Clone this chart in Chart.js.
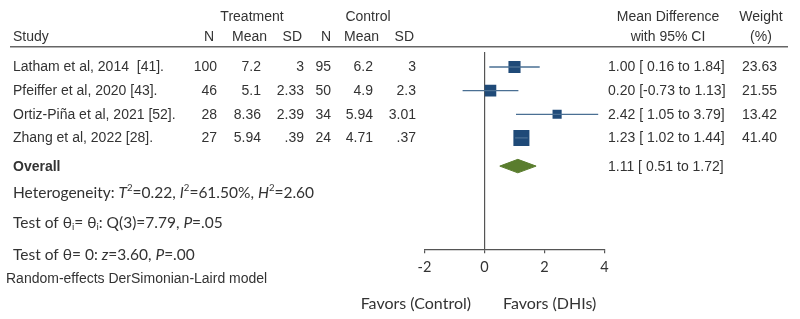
<!DOCTYPE html>
<html>
<head>
<meta charset="utf-8">
<script src="https://cdn.jsdelivr.net/npm/chart.js@4.4.0/dist/chart.umd.min.js"></script>
<style>
html,body{margin:0;padding:0;background:#fff;}
canvas{display:block;}
</style>
</head>
<body>
<canvas id="c" width="800" height="319"></canvas>
<script>
// ---- data ----
const studies = ["Latham et al, 2014  [41].", "Pfeiffer et al, 2020 [43].", "Ortiz-Piña et al, 2021 [52].", "Zhang et al, 2022 [28]."];
const tN = ["100", "46", "28", "27"];
const tMean = ["7.2", "5.1", "8.36", "5.94"];
const tSD = ["3", "2.33", "2.39", ".39"];
const cN = ["95", "50", "34", "24"];
const cMean = ["6.2", "4.9", "5.94", "4.71"];
const cSD = ["3", "2.3", "3.01", ".37"];
const md = [1.00, 0.20, 2.42, 1.23];
const lo = [0.16, -0.73, 1.05, 1.02];
const hi = [1.84, 1.13, 3.79, 1.44];
const weight = [23.63, 21.55, 13.42, 41.40];
const overallMD = 1.11, overallLo = 0.51, overallHi = 1.72;
const xTicks = [-2, 0, 2, 4];

// ---- layout constants ----
const ROW_OVERALL = studies.length + 0.19;
const TXT = "#333333";
const ARIAL = "'Liberation Sans', Arial, sans-serif";
const CAL = "Lato, 'Open Sans', sans-serif";

function ci(m, l, h) {
  return m.toFixed(2) + " [" + (l >= 0 ? " " : "") + l.toFixed(2) + " to " + h.toFixed(2) + "]";
}

const datasets = [];
studies.forEach((s, i) => {
  datasets.push({
    type: 'line', data: [{x: lo[i], y: i}, {x: hi[i], y: i}],
    borderColor: '#4a6f93', borderWidth: 1.3, pointRadius: 0, fill: false
  });
});
datasets.push({
  type: 'scatter',
  data: studies.map((s, i) => ({x: md[i], y: i})),
  pointStyle: 'rect',
  pointRadius: weight.map(w => 2.49 * Math.sqrt(w) / Math.SQRT2),
  pointHoverRadius: weight.map(w => 2.49 * Math.sqrt(w) / Math.SQRT2),
  backgroundColor: '#1f4a78', borderWidth: 0
});
const dh = 0.285;
datasets.push({
  type: 'line',
  data: [{x: overallLo, y: ROW_OVERALL}, {x: overallMD, y: ROW_OVERALL - dh}, {x: overallHi, y: ROW_OVERALL}, {x: overallMD, y: ROW_OVERALL + dh}, {x: overallLo, y: ROW_OVERALL}],
  borderColor: '#5a7d2e', borderWidth: 1, backgroundColor: '#5a7d2e', fill: 'shape', pointRadius: 0, tension: 0
});

function drawRuns(ctx, x, y, runs, size) {
  ctx.textAlign = 'left';
  ctx.textBaseline = 'middle';
  runs.forEach(r => {
    let f = size, dy = 0, st = '';
    if (r.s === 'i') st = 'italic ';
    if (r.s === 'sup') { f = size * 0.62; dy = -size * 0.33; }
    if (r.s === 'sub') { f = size * 0.62; dy = size * 0.22; }
    ctx.font = st + f + 'px ' + CAL;
    ctx.fillText(r.t, x, y + dy);
    x += ctx.measureText(r.t).width;
  });
}

const textPlugin = {
  id: 'forestText',
  afterDraw(chart) {
    const ctx = chart.ctx;
    const ys = chart.scales.y;
    const py = v => ys.getPixelForValue(v);
    ctx.save();
    ctx.fillStyle = TXT;
    ctx.textBaseline = 'middle';
    ctx.font = '14px ' + ARIAL;
    // headers
    const yH1 = py(-2.12), yH2 = py(-1.28);
    ctx.textAlign = 'center';
    ctx.fillText('Treatment', 252, yH1);
    ctx.fillText('Control', 368, yH1);
    ctx.fillText('Mean Difference', 668, yH1);
    ctx.fillText('with 95% CI', 668, yH2);
    ctx.fillText('Weight', 761, yH1);
    ctx.fillText('(%)', 761, yH2);
    ctx.textAlign = 'left';
    ctx.fillText('Study', 13, yH2);
    ctx.textAlign = 'right';
    [['N', 214], ['Mean', 267], ['SD', 302], ['N', 331], ['Mean', 379], ['SD', 414]].forEach(h => ctx.fillText(h[0], h[1], yH2));
    // header rule
    ctx.strokeStyle = '#666';
    ctx.lineWidth = 1.5;
    ctx.beginPath();
    ctx.moveTo(10, 46.7); ctx.lineTo(788, 46.7);
    ctx.stroke();
    // rows
    studies.forEach((s, i) => {
      const y = py(i) + 0.6;
      ctx.textAlign = 'left';
      ctx.fillText(s, 13, y);
      ctx.textAlign = 'right';
      ctx.fillText(tN[i], 217, y);
      ctx.fillText(tMean[i], 261, y);
      ctx.fillText(tSD[i], 304, y);
      ctx.fillText(cN[i], 331, y);
      ctx.fillText(cMean[i], 373, y);
      ctx.fillText(cSD[i], 416, y);
      ctx.textAlign = 'left';
      ctx.fillText(ci(md[i], lo[i], hi[i]), 608, y);
      ctx.textAlign = 'right';
      ctx.fillText(weight[i].toFixed(2), 777, y);
    });
    const yo = py(ROW_OVERALL) + 0.6;
    ctx.textAlign = 'left';
    ctx.font = 'bold 14px ' + ARIAL;
    ctx.fillText('Overall', 13, yo);
    ctx.font = '14px ' + ARIAL;
    ctx.fillText(ci(overallMD, overallLo, overallHi), 608, yo);
    // statistics lines
    drawRuns(ctx, 13, py(5.33), [
      {t: 'Heterogeneity: '}, {t: 'T', s: 'i'}, {t: '2', s: 'sup'}, {t: '=0.22, '},
      {t: 'I', s: 'i'}, {t: '2', s: 'sup'}, {t: '=61.50%, '}, {t: 'H', s: 'i'}, {t: '2', s: 'sup'}, {t: '=2.60'}
    ], 15.5);
    drawRuns(ctx, 13, py(6.6), [
      {t: 'Test of θ'}, {t: 'i', s: 'sub'}, {t: '= θ'}, {t: 'i', s: 'sub'}, {t: ': Q(3)=7.79, '}, {t: 'P', s: 'i'}, {t: '=.05'}
    ], 15.5);
    drawRuns(ctx, 13, py(7.95), [
      {t: 'Test of θ= 0: '}, {t: 'z', s: 'i'}, {t: '=3.60, '}, {t: 'P', s: 'i'}, {t: '=.00'}
    ], 15.5);
    ctx.font = '14px ' + ARIAL;
    ctx.textAlign = 'left';
    ctx.fillText('Random-effects DerSimonian-Laird model', 6, py(8.98));
    ctx.font = '16px ' + CAL;
    ctx.textAlign = 'right';
    ctx.fillText('Favors (Control)', 471, py(10.02));
    ctx.textAlign = 'left';
    ctx.fillText('Favors (DHIs)', 503, py(10.02));
    ctx.restore();
  }
};

new Chart(document.getElementById('c'), {
  data: {datasets},
  options: {
    responsive: false,
    devicePixelRatio: 1,
    animation: false,
    layout: {padding: {left: 424.5, right: 195.5, top: 52, bottom: 0}},
    plugins: {legend: {display: false}, tooltip: {enabled: false}},
    scales: {
      x: {
        type: 'linear', min: xTicks[0], max: xTicks[xTicks.length - 1],
        afterBuildTicks: s => { s.ticks = xTicks.map(v => ({value: v})); },
        afterFit: s => { s.height = 69.7; },
        grid: {
          display: true, drawOnChartArea: true, drawTicks: true, tickLength: 4,
          color: c => (c.tick && c.tick.value === 0) ? '#555' : 'rgba(0,0,0,0)',
          lineWidth: 1.2, tickColor: '#555', tickWidth: 1.2
        },
        border: {display: true, color: '#555', width: 1.2},
        ticks: {color: TXT, padding: 5, font: {family: CAL, size: 14.5}, maxRotation: 0}
      },
      y: {
        type: 'linear', reverse: true, min: -0.634, max: 7.708, display: false
      }
    }
  },
  plugins: [textPlugin]
});
</script>
</body>
</html>
